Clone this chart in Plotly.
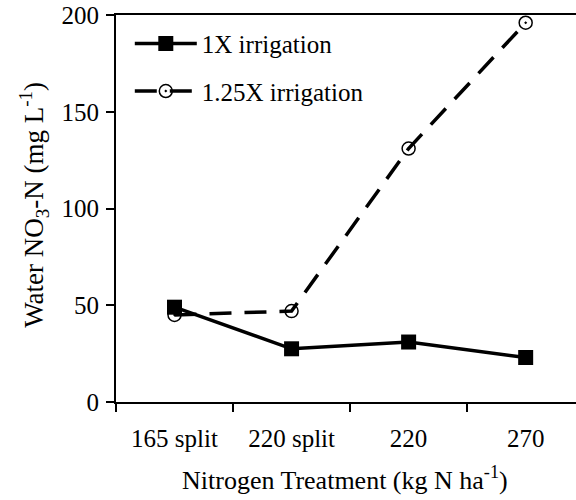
import plotly.graph_objects as go

categories = ["165 split", "220 split", "220", "270"]
irr_1x = [49, 27.5, 31, 23]
irr_125x = [45, 47, 131, 196]
series_names = ["1X irrigation", "1.25X irrigation"]
y_ticks = [0, 50, 100, 150, 200]

FONT = "Liberation Serif, Times New Roman, serif"

fig = go.Figure()
fig.add_trace(go.Scatter(
    x=categories, y=irr_1x, name=series_names[0], mode="lines+markers",
    line=dict(color="black", width=3.5),
    marker=dict(symbol="square", size=15, color="black"),
    legendgroup="a",
))
fig.add_trace(go.Scatter(
    x=categories, y=irr_125x, name=series_names[1], mode="lines+markers",
    line=dict(color="black", width=3.5, dash="22px,13px"),
    marker=dict(symbol="circle-open-dot", size=13, color="black", line=dict(width=1.5, color="black")),
    legendgroup="b",
))

fig.update_layout(
    width=576, height=500,
    margin=dict(l=116, r=0, t=15, b=98),
    paper_bgcolor="white", plot_bgcolor="white",
    font=dict(family=FONT, size=25, color="black"),
    showlegend=True,
    legend=dict(x=0.03, y=0.985, xanchor="left", yanchor="top",
                bgcolor="rgba(0,0,0,0)", font=dict(size=25),
                tracegroupgap=12, itemwidth=62),
    xaxis=dict(
        type="category", range=[-0.5, 3.43], showgrid=False,
        showline=True, linecolor="black", linewidth=2, mirror=True,
        ticks="outside", ticklen=8, tickwidth=2, tickcolor="black",
        tickson="boundaries", tickfont=dict(size=25), ticklabelstandoff=13,
    ),
    yaxis=dict(
        range=[0, 200], tickvals=y_ticks, showgrid=False, zeroline=False,
        showline=True, linecolor="black", linewidth=2,
        ticks="outside", ticklen=8, tickwidth=2, tickcolor="black",
        tickfont=dict(size=25), ticklabelstandoff=2,
    ),
    annotations=[
        dict(text="Water NO<sub>3</sub>-N (mg L<sup>-1</sup>)", textangle=-90,
             xref="paper", yref="paper", x=-0.18, y=0.51,
             xanchor="center", yanchor="middle", showarrow=False,
             font=dict(size=27)),
        dict(text="Nitrogen Treatment (kg N ha<sup>-1</sup>)",
             xref="paper", yref="paper", x=0.498, y=-0.197,
             xanchor="center", yanchor="middle", showarrow=False,
             font=dict(size=26)),
    ],
)

fig.write_html("out.html")
